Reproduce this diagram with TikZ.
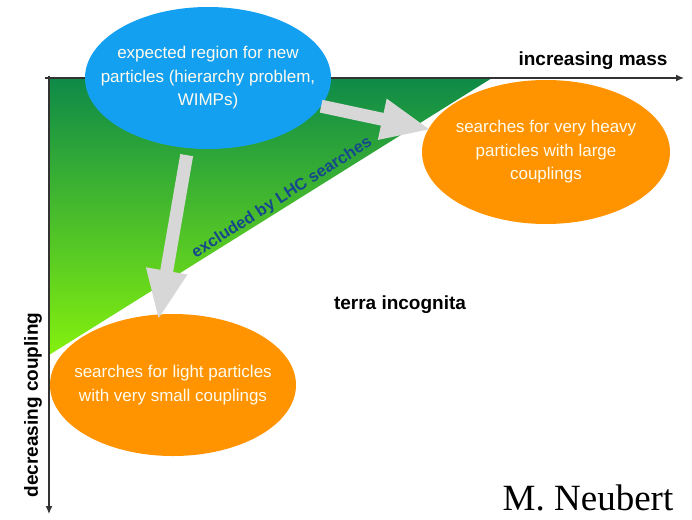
\documentclass[tikz,border=0pt]{standalone}
\usepackage{fontspec}
\setmainfont{Liberation Sans}
\newfontfamily\authorfont{Liberation Serif}
\usetikzlibrary{arrows.meta,shapes.geometric}
\definecolor{skyblue}{RGB}{20,160,240}
\definecolor{searchorange}{RGB}{255,148,0}
\definecolor{arrowgray}{RGB}{215,215,215}
\definecolor{darkgreen}{RGB}{14,138,72}
\definecolor{limegreen}{RGB}{132,240,14}
\definecolor{lhcblue}{RGB}{22,72,140}
\definecolor{blobtext}{RGB}{255,251,238}
\tikzset{
	blob/.style={ellipse, inner sep=-60pt, minimum width=246pt, minimum height=142pt, text=blobtext, align=center, font=\fontsize{17}{23.5}\selectfont},
	fatarrow/.style={line width=13pt, color=arrowgray, -{Triangle[length=50pt,width=38pt]}},
	axislabel/.style={font=\fontsize{19}{22}\selectfont\bfseries}
}

\begin{document}
\begin{tikzpicture}[x=1pt, y=-1pt]
		%%%%% START %%%%%
		\useasboundingbox[fill=white] (0, 0) rectangle (692, 519);
		
		\shade[top color=darkgreen, bottom color=limegreen] (49, 78) -- (492, 78) -- (49, 355) -- cycle;
		
		\draw[line width=1.2pt, color=black!80, -{Latex[length=8pt,width=7pt]}] (45, 78) -- (684, 78);
		\draw[line width=1.2pt, color=black!80, -{Latex[length=8pt,width=7pt]}] (49, 76) -- (49, 514);
		
		\node[axislabel] (mass) at (593, 61) {increasing mass};
		\node[axislabel, rotate=90] (coupling) at (33, 405) {decreasing coupling};
		\node[axislabel] (terra) at (400, 305) {terra incognita};
		\node[font=\fontsize{16.5}{20}\selectfont\bfseries, color=lhcblue, rotate=32.6] (lhc) at (282, 198) {excluded by LHC searches};
		
		\node[blob, fill=skyblue] (expected) at (208, 78) {expected region for new\\particles (hierarchy problem,\\WIMPs)};
		\node[blob, fill=searchorange, minimum width=248pt, minimum height=144pt] (heavy) at (546, 152) {searches for very heavy\\particles with large\\couplings};
		\node[blob, fill=searchorange] (light) at (173, 385) {searches for light particles\\with very small couplings};
		
		\draw[fatarrow, shorten <=7pt, shorten >=-6pt] (expected.-106) -- (light.101);
		\draw[fatarrow, shorten >=-3pt] (expected.-14.6) -- (heavy.169.6);
		
		\node[font=\authorfont\fontsize{37}{40}\selectfont, anchor=base] (author) at (588, 510) {M. Neubert};
		
		%%%%% END %%%%%
	\end{tikzpicture}
\end{document}
